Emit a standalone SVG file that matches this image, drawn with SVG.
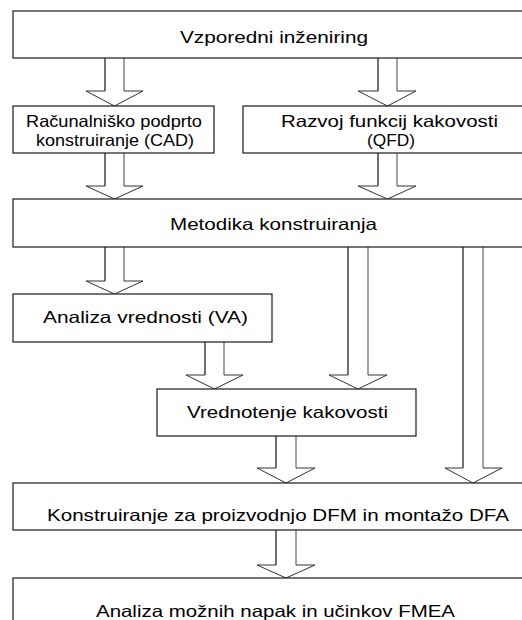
<svg xmlns="http://www.w3.org/2000/svg" width="522" height="620" viewBox="0 0 522 620">
  <style>
    .box { fill: #ffffff; stroke: #1a1a1a; stroke-width: 1.2; }
    .lbl { font-family: "Liberation Sans", Arial, sans-serif; font-size: 16.5px; fill: #000000; }
    .shaft-l { stroke: #111111; stroke-width: 1.2; fill: none; }
    .shaft-r { stroke: #7a7a7a; stroke-width: 1.4; fill: none; }
    .head { stroke: #333333; stroke-width: 1; fill: none; stroke-linejoin: miter; }
  </style>
  <rect width="522" height="620" fill="#ffffff"/>

  <!-- hollow block arrows between the stages -->
  <g id="connectors">
    <!-- Vzporedni -> CAD -->
    <g>
      <line class="shaft-l" x1="105" y1="58" x2="105" y2="91"/>
      <line class="shaft-r" x1="124" y1="58" x2="124" y2="91"/>
      <polyline class="head" points="105,91 86,91 114.5,106 143,91 124,91"/>
    </g>
    <!-- Vzporedni -> QFD -->
    <g>
      <line class="shaft-l" x1="378" y1="58" x2="378" y2="91"/>
      <line class="shaft-r" x1="397" y1="58" x2="397" y2="91"/>
      <polyline class="head" points="378,91 358,91 387.5,106 416,91 397,91"/>
    </g>
    <!-- CAD -> Metodika -->
    <g>
      <line class="shaft-l" x1="105" y1="153" x2="105" y2="186"/>
      <line class="shaft-r" x1="124" y1="153" x2="124" y2="186"/>
      <polyline class="head" points="105,186 86,186 114.5,199 143,186 124,186"/>
    </g>
    <!-- QFD -> Metodika -->
    <g>
      <line class="shaft-l" x1="378" y1="153" x2="378" y2="186"/>
      <line class="shaft-r" x1="397" y1="153" x2="397" y2="186"/>
      <polyline class="head" points="378,186 358,186 387.5,199 416,186 397,186"/>
    </g>
    <!-- Metodika -> VA -->
    <g>
      <line class="shaft-l" x1="105" y1="247" x2="105" y2="281"/>
      <line class="shaft-r" x1="124" y1="247" x2="124" y2="281"/>
      <polyline class="head" points="105,281 86,281 114.5,294 143,281 124,281"/>
    </g>
    <!-- Metodika -> Vrednotenje kakovosti -->
    <g>
      <line class="shaft-l" x1="348" y1="247" x2="348" y2="375"/>
      <line class="shaft-r" x1="368" y1="247" x2="368" y2="375"/>
      <polyline class="head" points="348,375 329,375 358,389 387,375 368,375"/>
    </g>
    <!-- Metodika -> DFM/DFA -->
    <g>
      <line class="shaft-l" x1="463" y1="247" x2="463" y2="468"/>
      <line class="shaft-r" x1="483" y1="247" x2="483" y2="468"/>
      <polyline class="head" points="463,468 445,468 473,483 502,468 483,468"/>
    </g>
    <!-- VA -> Vrednotenje kakovosti -->
    <g>
      <line class="shaft-l" x1="205" y1="342" x2="205" y2="375"/>
      <line class="shaft-r" x1="224" y1="342" x2="224" y2="375"/>
      <polyline class="head" points="205,375 186,375 214.5,389 243,375 224,375"/>
    </g>
    <!-- Vrednotenje kakovosti -> DFM/DFA -->
    <g>
      <line class="shaft-l" x1="276" y1="436" x2="276" y2="468"/>
      <line class="shaft-r" x1="296" y1="436" x2="296" y2="468"/>
      <polyline class="head" points="276,468 257,468 286,483 315,468 296,468"/>
    </g>
    <!-- DFM/DFA -> FMEA -->
    <g>
      <line class="shaft-l" x1="276" y1="530" x2="276" y2="565"/>
      <line class="shaft-r" x1="296" y1="530" x2="296" y2="565"/>
      <polyline class="head" points="276,565 257,565 286,578 315,565 296,565"/>
    </g>
  </g>

  <g id="vzporedni">
    <rect class="box" x="13" y="11" width="522" height="47"/>
    <text class="lbl" x="180" y="42.5" textLength="188" lengthAdjust="spacingAndGlyphs">Vzporedni inženiring</text>
  </g>

  <g id="cad">
    <rect class="box" x="13" y="106" width="201" height="47"/>
    <text class="lbl" x="26" y="127" textLength="176" lengthAdjust="spacingAndGlyphs">Računalniško podprto</text>
    <text class="lbl" x="36" y="146" textLength="158" lengthAdjust="spacingAndGlyphs">konstruiranje (CAD)</text>
  </g>

  <g id="qfd">
    <rect class="box" x="243" y="106" width="292" height="47"/>
    <text class="lbl" x="281" y="127" textLength="217" lengthAdjust="spacingAndGlyphs">Razvoj funkcij kakovosti</text>
    <text class="lbl" x="367" y="145.5" textLength="48" lengthAdjust="spacingAndGlyphs">(QFD)</text>
  </g>

  <g id="metodika">
    <rect class="box" x="13" y="199" width="522" height="48"/>
    <text class="lbl" x="170" y="230" textLength="207" lengthAdjust="spacingAndGlyphs">Metodika konstruiranja</text>
  </g>

  <g id="va">
    <rect class="box" x="13" y="294" width="259" height="48"/>
    <text class="lbl" x="43" y="323" textLength="205" lengthAdjust="spacingAndGlyphs">Analiza vrednosti (VA)</text>
  </g>

  <g id="vrednotenje">
    <rect class="box" x="157" y="389" width="259" height="47"/>
    <text class="lbl" x="187" y="418" textLength="201" lengthAdjust="spacingAndGlyphs">Vrednotenje kakovosti</text>
  </g>

  <g id="dfm-dfa">
    <rect class="box" x="13" y="483" width="522" height="47"/>
    <text class="lbl" x="47" y="521" textLength="462" lengthAdjust="spacingAndGlyphs">Konstruiranje za proizvodnjo DFM in montažo DFA</text>
  </g>

  <g id="fmea">
    <rect class="box" x="13" y="578" width="522" height="60"/>
    <text class="lbl" x="96" y="617" textLength="359" lengthAdjust="spacingAndGlyphs">Analiza možnih napak in učinkov FMEA</text>
  </g>
</svg>
